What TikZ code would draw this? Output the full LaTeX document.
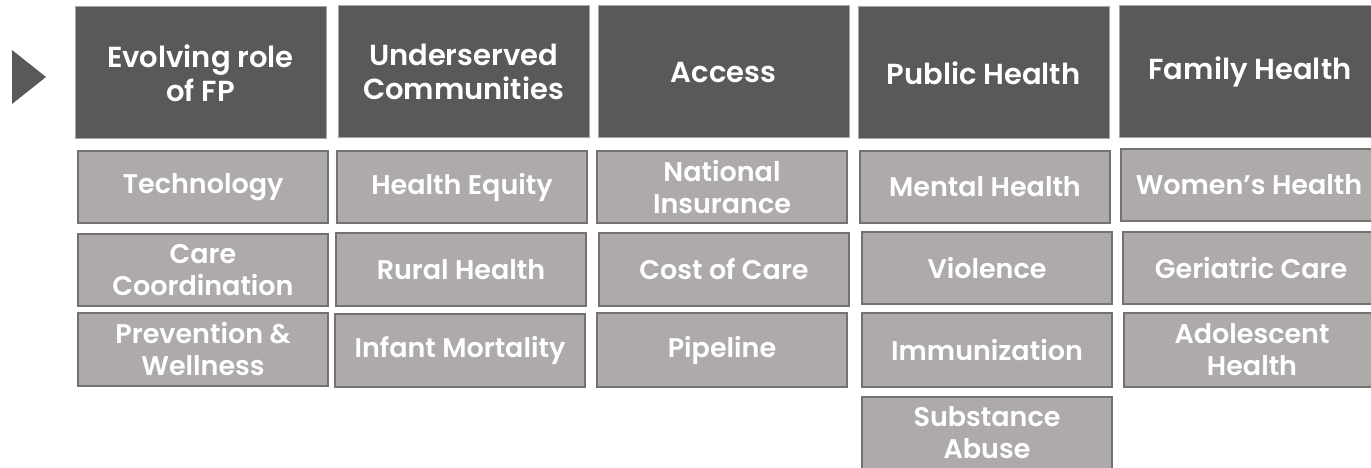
\documentclass[tikz,border=0pt]{standalone}
\usepackage{fontspec}
\setmainfont{Poppins}[BoldFont={Poppins SemiBold}]
\definecolor{hdrfill}{HTML}{595959}
\definecolor{hdrline}{HTML}{A6A6A6}
\definecolor{itemfill}{HTML}{AEAAAA}
\definecolor{itemline}{HTML}{767171}
\begin{document}
\begin{tikzpicture}[x=1pt,y=-1pt,
  hdr/.style={anchor=north west, draw=hdrline, line width=1pt, fill=hdrfill,
    text=white, align=center, inner sep=0pt, outer sep=0pt,
    minimum width=251pt, minimum height=132pt,
    font=\bfseries\fontsize{29}{34}\selectfont},
  item/.style={anchor=north west, draw=itemline, line width=1.6pt, fill=itemfill,
    text=white, align=center, inner sep=0pt, outer sep=0pt,
    minimum width=250pt, minimum height=72pt,
    font=\bfseries\fontsize{27}{32}\selectfont}]
\useasboundingbox (0,0) rectangle (1371,468);
\clip (0,0) rectangle (1371,468);
% pointer
\fill[hdrfill] (12,50) -- (46,77) -- (12,104) -- cycle;
% column headers
\node[hdr] (h1) at (75,7) {Evolving role\\of FP};
\node[hdr] (h2) at (338,6) {Underserved\\Communities};
\node[hdr] (h3) at (598,6) {Access};
\node[hdr] (h4) at (858,7) {Public Health};
\node[hdr, minimum width=262pt] (h5) at (1119,6) {Family Health};
% column 1
\node[item] (a1) at (78,151) {Technology};
\node[item] (a2) at (78,234) {Care\\Coordination};
\node[item, minimum height=73pt] (a3) at (78,313) {Prevention \&\\Wellness};
% column 2
\node[item] (b1) at (337,151) {Health Equity};
\node[item, minimum height=73pt] (b2) at (336,233) {Rural Health};
\node[item, minimum height=73pt] (b3) at (335,314) {Infant Mortality};
% column 3
\node[item] (c1) at (597,151) {National\\Insurance};
\node[item, minimum height=73pt] (c2) at (599,233) {Cost of Care};
\node[item, minimum height=74pt] (c3) at (597,313) {Pipeline};
% column 4
\node[item] (d1) at (860,151) {Mental Health};
\node[item] (d2) at (862,232) {Violence};
\node[item, minimum height=74pt] (d3) at (862,313) {Immunization};
\node[item] (d4) at (862,397) {Substance\\Abuse};
% column 5
\node[item, minimum width=256pt] (e1) at (1121,149) {Women’s Health};
\node[item, minimum width=256pt] (e2) at (1123,232) {Geriatric Care};
\node[item, minimum width=256pt, minimum height=74pt] (e3) at (1124,313) {Adolescent\\Health};
\end{tikzpicture}
\end{document}
